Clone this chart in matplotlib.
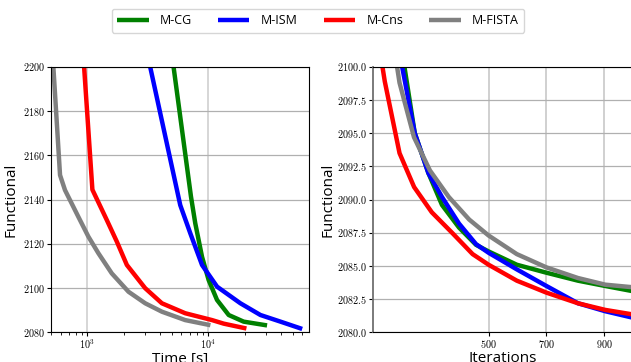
import matplotlib
matplotlib.use("Agg")
import matplotlib.pyplot as plt
from matplotlib.ticker import FuncFormatter, FixedLocator, LogLocator, NullFormatter
import numpy as np

plt.rcParams['mathtext.fontset'] = 'cm'
plt.rcParams['font.family'] = ['Open Sans', 'DejaVu Sans']

labels = ["M-CG", "M-ISM", "M-Cns", "M-FISTA"]
colors = ["green", "blue", "red", "gray"]

# Left panel: functional vs time [s]
time_cg = [5157, 7190, 7800, 8870, 10060, 11800, 14740, 19600, 30600]
func_t_cg = [2200, 2141.3, 2129.3, 2114.2, 2103.7, 2094.7, 2087.9, 2084.9, 2083.2]
time_ism = [3304, 5861, 7096, 8870, 11810, 18410, 26970, 39520, 59730]
func_t_ism = [2200, 2137.5, 2124.8, 2110.5, 2100.7, 2093.2, 2087.9, 2084.9, 2081.6]
time_cns = [939, 1100, 1447, 1753, 2120, 3006, 4130, 6440, 10740, 13400, 20650]
func_t_cns = [2200, 2144.5, 2130.8, 2121, 2110.5, 2100, 2093.2, 2088.7, 2085.6, 2084.0, 2081.8]
time_fista = [523, 594, 653, 841, 1019, 1233, 1591, 2188, 3006, 4130, 6440, 10400]
func_t_fista = [2200, 2151.1, 2144.3, 2132.3, 2123.3, 2115.8, 2106.7, 2098.4, 2093.2, 2089.4, 2085.6, 2083.3]

# Right panel: functional vs iterations
it_cg = [195, 209, 244.7, 291.8, 338.8, 397.6, 456.5, 500, 597.6, 700, 809, 903.5, 1001]
func_i_cg = [2101.5, 2100, 2095, 2092, 2089.6, 2087.9, 2086.6, 2086.1, 2085.1, 2084.5, 2083.9, 2083.5, 2083.1]
it_ism = [190, 201, 244.7, 291.8, 338.8, 397.6, 456.5, 500, 597.6, 700, 809, 903.5, 1001]
func_i_ism = [2101.5, 2100, 2095, 2092, 2090.2, 2088.2, 2086.65, 2086.0, 2084.75, 2083.5, 2082.2, 2081.6, 2081.1]
it_cns = [125, 133, 141, 192, 242.4, 303.5, 374, 444.7, 500, 597.6, 700, 809, 903.5, 1001]
func_i_cns = [2101.5, 2100, 2098.9, 2093.5, 2090.95, 2089.05, 2087.5, 2085.9, 2085.1, 2083.9, 2083.0, 2082.2, 2081.7, 2081.35]
it_fista = [175, 183.5, 192, 242, 297, 362.4, 433, 500, 597.6, 700, 809, 903.5, 1001]
func_i_fista = [2101.5, 2100, 2098.8, 2094.7, 2092.2, 2090.2, 2088.5, 2087.3, 2085.9, 2084.9, 2084.1, 2083.6, 2083.4]

left_yticks = [2080, 2100, 2120, 2140, 2160, 2180, 2200]
right_yticks = [2080.0, 2082.5, 2085.0, 2087.5, 2090.0, 2092.5, 2095.0, 2097.5, 2100.0]
right_xticks = [500, 700, 900]

fig = plt.figure(figsize=(6.31, 3.62), dpi=100)
ax1 = fig.add_axes([0.0808, 0.0815, 0.4089, 0.734])
ax2 = fig.add_axes([0.591, 0.0815, 0.4125, 0.734])

lw = 3.2
times = [time_cg, time_ism, time_cns, time_fista]
funcs_t = [func_t_cg, func_t_ism, func_t_cns, func_t_fista]
its = [it_cg, it_ism, it_cns, it_fista]
funcs_i = [func_i_cg, func_i_ism, func_i_cns, func_i_fista]

handles = []
for t, f, c, lab in zip(times, funcs_t, colors, labels):
    h, = ax1.plot(t, f, color=c, lw=lw, label=lab, solid_capstyle='butt')
    handles.append(h)
for i, f, c in zip(its, funcs_i, colors):
    ax2.plot(i, f, color=c, lw=lw, solid_capstyle='butt')

ax1.set_xscale('log')
ax1.set_xlim(500, 68000)
ax1.set_ylim(2080, 2200)
ax1.yaxis.set_major_locator(FixedLocator(left_yticks))
ax1.yaxis.set_major_formatter(FuncFormatter(lambda v, p: r'$%d$' % v))
ax1.xaxis.set_major_locator(LogLocator(base=10))
ax1.xaxis.set_major_formatter(FuncFormatter(lambda v, p: r'$10^{%d}$' % round(np.log10(v))))
ax1.xaxis.set_minor_formatter(NullFormatter())
ax1.grid(True, axis='y', color='#b0b0b0', lw=0.9)
ax1.grid(True, axis='x', which='major', color='#d0d0d0', lw=1.2)
ax1.set_ylabel('Functional', fontsize=11, labelpad=3)
ax1.set_xlabel('Time [s]', fontsize=11, labelpad=0)

ax2.set_xlim(100, 1000)
ax2.set_ylim(2080, 2100)
ax2.xaxis.set_major_locator(FixedLocator(right_xticks))
ax2.xaxis.set_major_formatter(FuncFormatter(lambda v, p: r'$%d$' % v))
ax2.yaxis.set_major_locator(FixedLocator(right_yticks))
ax2.yaxis.set_major_formatter(FuncFormatter(lambda v, p: r'$%.1f$' % v))
ax2.grid(True, axis='y', color='#b0b0b0', lw=0.9)
ax2.grid(True, axis='x', color='#c8c8c8', lw=1.2)
ax2.spines['left'].set_color('#707070')
ax2.spines['left'].set_linewidth(1.3)
ax2.set_ylabel('Functional', fontsize=11, labelpad=1)
ax2.set_xlabel('Iterations', fontsize=11, labelpad=0)

for ax in (ax1, ax2):
    ax.tick_params(which='major', labelsize=7.3, pad=1.5, length=3, width=0.8)
    ax.tick_params(which='minor', length=1.8, width=0.6)

fig.legend(handles=handles, labels=labels, loc='center', bbox_to_anchor=(0.504, 0.943),
           ncol=4, fontsize=9, frameon=True, edgecolor='#cccccc', handlelength=2.5,
           columnspacing=2.1, handletextpad=0.9, borderpad=0.45)

fig.savefig('out.png', dpi=100)
